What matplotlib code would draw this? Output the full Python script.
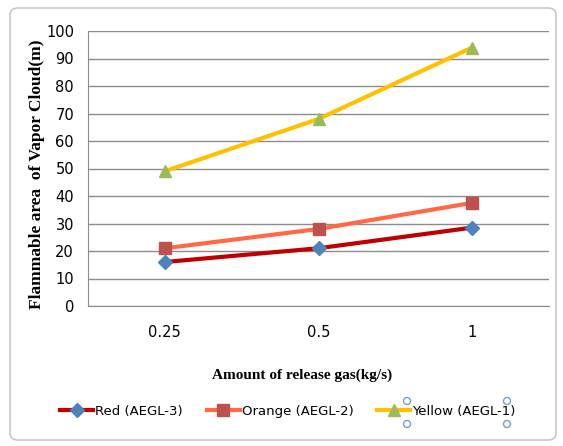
import matplotlib
matplotlib.use("Agg")
import matplotlib.pyplot as plt
from matplotlib.patches import FancyBboxPatch, Ellipse

categories = ["0.25", "0.5", "1"]
red_aegl3 = [16, 21, 28.5]
orange_aegl2 = [21, 28, 37.5]
yellow_aegl1 = [49, 68, 94]
yticks = list(range(0, 101, 10))

W, H = 563, 446
fig = plt.figure(figsize=(W/100, H/100), dpi=100)

# outer chart frame
frame = FancyBboxPatch((10/W, 6/H), 546/W, 432/H, boxstyle="round,pad=0,rounding_size=0.015",
                       transform=fig.transFigure, facecolor="white", edgecolor="#C8C8C8", lw=1.2,
                       zorder=-10)
fig.patches.append(frame)

sans = ["Liberation Sans Narrow", "DejaVu Sans"]
ax = fig.add_axes([88/W, 1-306/H, (549-88)/W, (306-31)/H])
ax.patch.set_alpha(0)
x = list(range(len(categories)))
ax.plot(x, red_aegl3, color="#C00000", lw=3, marker="D", ms=7, mfc="#4F81BD", mec="#4F81BD", label="Red (AEGL-3)", zorder=3)
ax.plot(x, orange_aegl2, color="#FF6A45", lw=3, marker="s", ms=8, mfc="#C0504D", mec="#C0504D", label="Orange (AEGL-2)", zorder=3)
ax.plot(x, yellow_aegl1, color="#FFC000", lw=3, marker="^", ms=9, mfc="#9BBB59", mec="#9BBB59", label="Yellow (AEGL-1)", zorder=3)

ax.set_xlim(-0.5, 2.5)
ax.set_ylim(0, 100)
ax.set_yticks(yticks)
ax.set_xticks(x)
ax.set_xticklabels(categories)
ax.yaxis.grid(True, color="#8C8C8C", lw=1)
ax.set_axisbelow(True)
for s in ["top", "right"]:
    ax.spines[s].set_visible(False)
for s in ["left", "bottom"]:
    ax.spines[s].set_color("#8C8C8C")
ax.tick_params(axis="both", length=0, labelsize=10.5, colors="black")
ax.tick_params(axis="y", pad=10)
ax.tick_params(axis="x", pad=14)
for lab in ax.get_xticklabels() + ax.get_yticklabels():
    lab.set_family(sans)

ax.set_xlabel("Amount of release gas(kg/s)", fontfamily=["Liberation Serif", "DejaVu Serif"],
              fontweight="bold", fontsize=11)
ax.xaxis.set_label_coords((302-88)/461, (306-369)/275)
ax.set_ylabel("Flammable area  of Vapor Cloud(m)", fontfamily=["Liberation Serif", "DejaVu Serif"],
              fontweight="bold", fontsize=12.5)
ax.yaxis.set_label_coords((45-88)/461, (306-174)/275)

leg = fig.legend(loc="center", bbox_to_anchor=(288/W, 1-411/H), ncol=3, frameon=False,
                 prop={"family": sans, "size": 9.5},
                 handlelength=2.5, handletextpad=0.15, columnspacing=1.8)

# selection handles around the last legend entry
for (cx, cy) in [(407, 401), (407, 424), (507, 401), (507, 424)]:
    fig.patches.append(Ellipse((cx/W, 1-cy/H), 7/W, 7/H, transform=fig.transFigure,
                               facecolor="white", edgecolor="#7A9CC6", lw=1, zorder=5))

fig.savefig("out.png", dpi=100)
